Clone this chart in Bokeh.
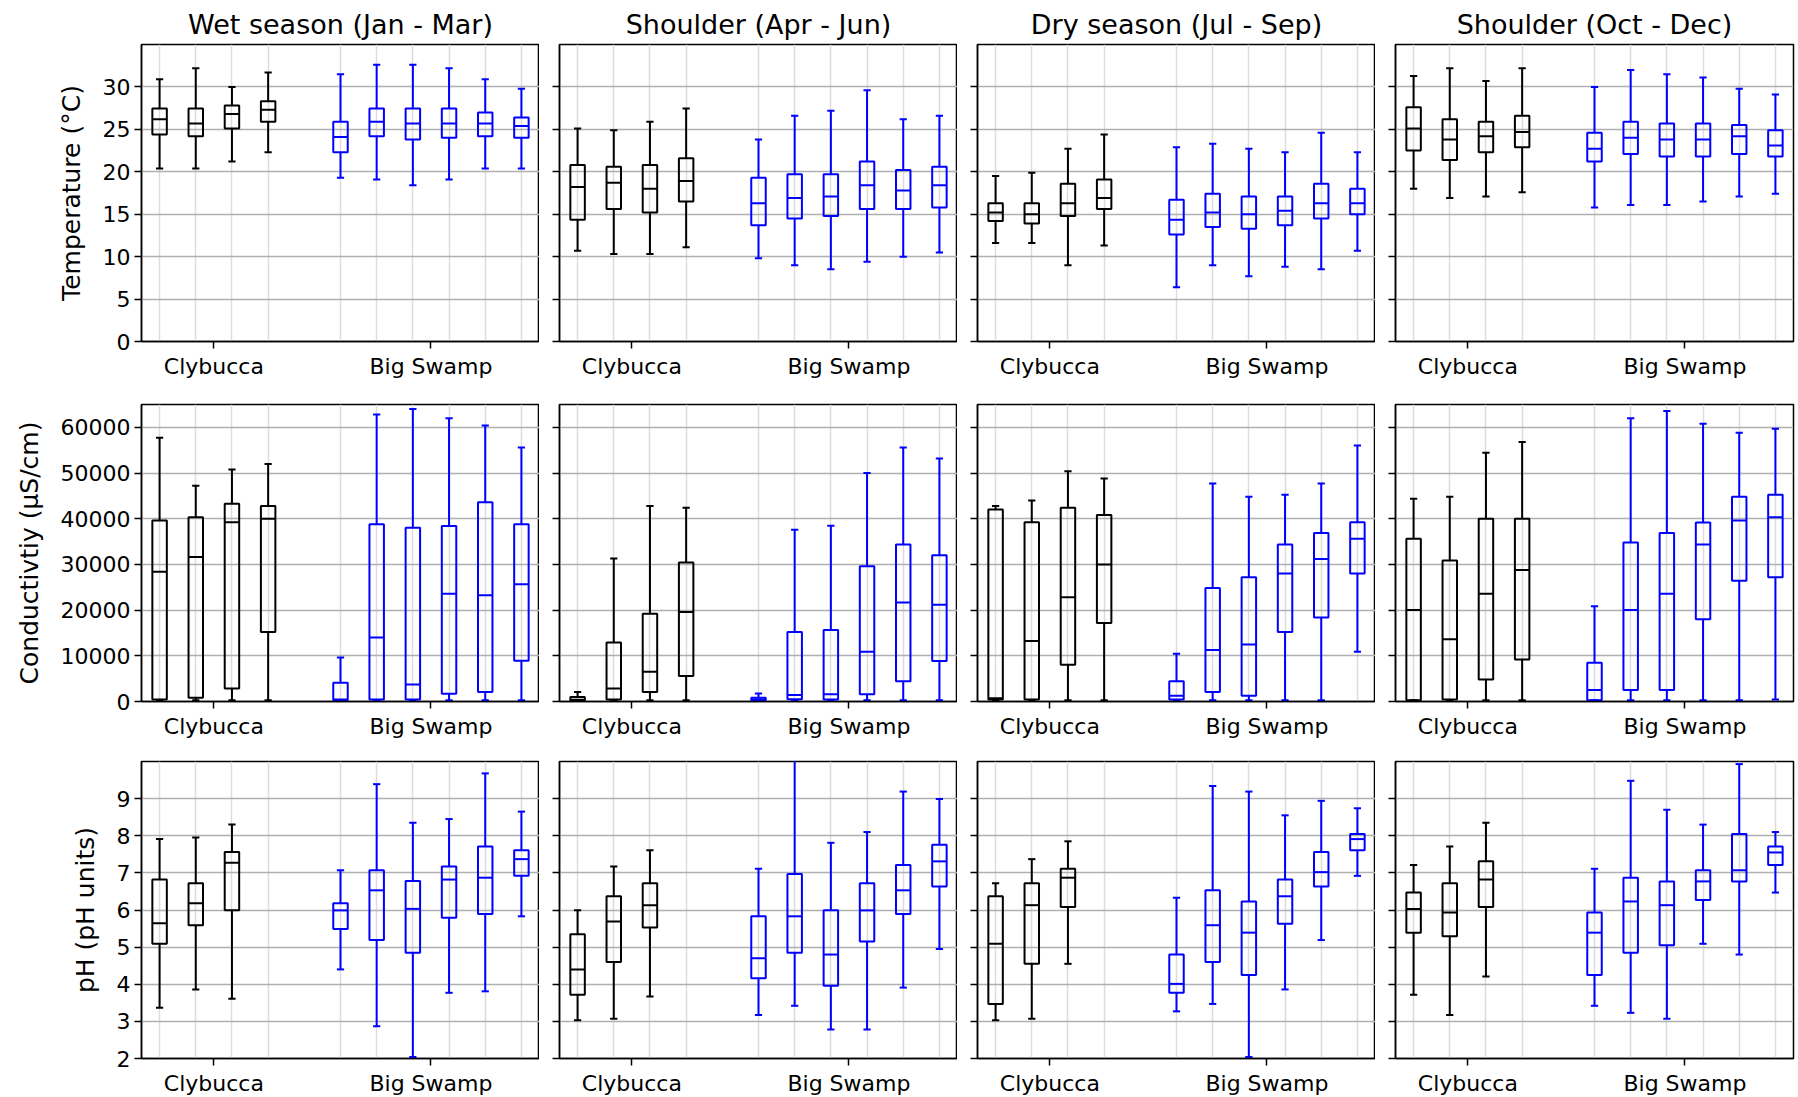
from bokeh.plotting import figure
from bokeh.layouts import gridplot
from bokeh.models import FixedTicker, ColumnDataSource, Range1d, CustomJSTickFormatter
from bokeh.embed import file_html
from bokeh.resources import INLINE

# ---------------- data ----------------
SEASONS = ["Wet season (Jan - Mar)", "Shoulder (Apr - Jun)",
           "Dry season (Jul - Sep)", "Shoulder (Oct - Dec)"]
SITES = ["Clybucca", "Big Swamp"]
YLABELS = ["Temperature (°C)", "Conductivtiy (µS/cm)", "pH (pH units)"]
TEMP_TICKS = [0, 5, 10, 15, 20, 25, 30]
COND_TICKS = [0, 10000, 20000, 30000, 40000, 50000, 60000]
PH_TICKS = [2, 3, 4, 5, 6, 7, 8, 9]
TEMP_LIM = [0, 35]
COND_LIM = [0, 65000]
PH_LIM = [2, 10]

# each box: [whisker_low, q1, median, q3, whisker_high]
TEMP_WET_CLY = [[20.4, 24.4, 26.2, 27.45, 30.9], [20.4, 24.2, 25.7, 27.45, 32.2],
                [21.2, 25.1, 26.8, 27.8, 30.0], [22.3, 25.9, 27.3, 28.3, 31.7]]
TEMP_WET_BS = [[19.3, 22.3, 24.1, 25.9, 31.5], [19.1, 24.2, 25.9, 27.45, 32.6],
               [18.4, 23.8, 25.7, 27.45, 32.6], [19.1, 24.0, 25.7, 27.45, 32.2],
               [20.4, 24.2, 25.7, 27.0, 30.9], [20.4, 24.0, 25.4, 26.4, 29.8]]
TEMP_AJ_CLY = [[10.7, 14.35, 18.2, 20.8, 25.1], [10.3, 15.6, 18.7, 20.6, 24.9],
               [10.3, 15.2, 18.0, 20.8, 25.9], [11.1, 16.5, 18.9, 21.6, 27.45]]
TEMP_AJ_BS = [[9.8, 13.7, 16.3, 19.3, 23.8], [9.0, 14.5, 16.9, 19.7, 26.6],
              [8.5, 14.8, 17.1, 19.7, 27.2], [9.4, 15.6, 18.4, 21.2, 29.6],
              [10.0, 15.6, 17.8, 20.2, 26.2], [10.5, 15.8, 18.4, 20.6, 26.6]]
TEMP_DRY_CLY = [[11.6, 14.2, 15.2, 16.3, 19.5], [11.6, 13.9, 15.0, 16.3, 19.9],
                [9.0, 14.8, 16.3, 18.6, 22.7], [11.3, 15.6, 16.9, 19.1, 24.4]]
TEMP_DRY_BS = [[6.4, 12.6, 14.35, 16.7, 22.9], [9.0, 13.5, 15.2, 17.4, 23.3],
               [7.7, 13.3, 15.0, 17.1, 22.7], [8.8, 13.7, 15.4, 17.1, 22.3],
               [8.5, 14.5, 16.3, 18.6, 24.6], [10.7, 15.0, 16.3, 18.0, 22.3]]
TEMP_OD_CLY = [[18.0, 22.5, 25.1, 27.6, 31.3], [16.9, 21.4, 23.8, 26.2, 32.2],
               [17.1, 22.3, 24.2, 25.9, 30.7], [17.6, 22.9, 24.7, 26.6, 32.2]]
TEMP_OD_BS = [[15.8, 21.2, 22.7, 24.6, 30.0], [16.1, 22.1, 24.0, 25.9, 32.0],
              [16.1, 21.8, 23.8, 25.7, 31.5], [16.5, 21.8, 23.8, 25.7, 31.1],
              [17.1, 22.1, 24.2, 25.5, 29.8], [17.4, 21.8, 23.1, 24.9, 29.1]]

COND_WET_CLY = [[250, 450, 28400, 39600, 57700], [250, 800, 31600, 40350, 47200],
                [250, 2850, 39250, 43300, 50800], [250, 15200, 40000, 42800, 52000]]
COND_WET_BS = [[100, 300, 450, 4100, 9650], [250, 450, 14000, 38800, 62800],
               [250, 450, 3700, 38000, 64000], [250, 1700, 23600, 38400, 62000],
               [250, 2100, 23250, 43600, 60400], [250, 8900, 25650, 38800, 55600]]
COND_AJ_CLY = [[100, 200, 400, 1000, 2100], [250, 450, 2850, 12900, 31300],
               [250, 2100, 6500, 19200, 42800], [250, 5600, 19600, 30400, 42400]]
COND_AJ_BS = [[100, 300, 450, 800, 1750], [250, 500, 1400, 15200, 37600],
              [250, 450, 1600, 15650, 38450], [250, 1600, 10900, 29600, 50000],
              [250, 4450, 21650, 34350, 55600], [250, 8850, 21200, 32000, 53200]]
COND_DRY_CLY = [[250, 450, 700, 42000, 42800], [250, 450, 13250, 39250, 44000],
                [250, 8050, 22800, 42400, 50400], [250, 17200, 30000, 40800, 48800]]
COND_DRY_BS = [[150, 450, 1250, 4450, 10450], [250, 2100, 11250, 24850, 47700],
               [250, 1250, 12500, 27200, 44800], [250, 15200, 28000, 34350, 45250],
               [250, 18400, 31200, 36850, 47700], [10900, 28000, 35600, 39250, 56000]]
COND_OD_CLY = [[250, 300, 20000, 35600, 44400], [250, 450, 13600, 30850, 44800],
               [250, 4800, 23600, 40000, 54450], [250, 9200, 28800, 40000, 56800]]
COND_OD_BS = [[250, 300, 2500, 8500, 20850], [250, 2500, 20000, 34800, 62000],
              [250, 2500, 23600, 36850, 63600], [250, 18000, 34350, 39200, 60800],
              [250, 26400, 39600, 44800, 58800], [450, 27200, 40350, 45250, 59700]]

PH_WET_CLY = [[3.37, 5.09, 5.64, 6.82, 7.91], [3.86, 5.59, 6.18, 6.72, 7.95],
              [3.61, 5.99, 7.27, 7.56, 8.30]]
PH_WET_BS = [[4.40, 5.49, 5.99, 6.18, 7.07], [2.87, 5.19, 6.53, 7.07, 9.39],
             [2.04, 4.85, 6.03, 6.78, 8.35], [3.77, 5.79, 6.82, 7.17, 8.45],
             [3.81, 5.89, 6.87, 7.71, 9.68], [5.83, 6.92, 7.37, 7.61, 8.65]]
PH_AJ_CLY = [[3.03, 3.72, 4.40, 5.35, 5.99], [3.07, 4.60, 5.69, 6.37, 7.17],
             [3.67, 5.53, 6.13, 6.72, 7.61]]
PH_AJ_BS = [[3.17, 4.16, 4.70, 5.83, 7.11], [3.42, 4.85, 5.83, 6.97, 10.2],
            [2.78, 3.96, 4.80, 5.99, 7.81], [2.78, 5.15, 5.99, 6.72, 8.10],
            [3.91, 5.89, 6.53, 7.21, 9.19], [4.95, 6.63, 7.31, 7.76, 8.99]]
PH_DRY_CLY = [[3.03, 3.47, 5.09, 6.37, 6.72], [3.07, 4.55, 6.13, 6.72, 7.37],
              [4.55, 6.08, 6.87, 7.11, 7.85]]
PH_DRY_BS = [[3.27, 3.77, 4.01, 4.80, 6.33], [3.47, 4.60, 5.59, 6.53, 9.34],
             [2.04, 4.25, 5.39, 6.23, 9.19], [3.86, 5.63, 6.37, 6.82, 8.55],
             [5.19, 6.63, 7.02, 7.56, 8.94], [6.92, 7.61, 7.91, 8.05, 8.74]]
PH_OD_CLY = [[3.72, 5.39, 6.03, 6.47, 7.21], [3.17, 5.29, 5.93, 6.72, 7.71],
             [4.21, 6.08, 6.82, 7.31, 8.35]]
PH_OD_BS = [[3.42, 4.25, 5.39, 5.93, 7.11], [3.23, 4.85, 6.23, 6.87, 9.48],
            [3.07, 5.05, 6.13, 6.77, 8.70], [5.09, 6.27, 6.77, 7.07, 8.30],
            [4.80, 6.77, 7.07, 8.05, 9.93], [6.47, 7.21, 7.55, 7.71, 8.10]]

ROWS = [
    (TEMP_TICKS, TEMP_LIM, [(TEMP_WET_CLY, TEMP_WET_BS), (TEMP_AJ_CLY, TEMP_AJ_BS),
                            (TEMP_DRY_CLY, TEMP_DRY_BS), (TEMP_OD_CLY, TEMP_OD_BS)]),
    (COND_TICKS, COND_LIM, [(COND_WET_CLY, COND_WET_BS), (COND_AJ_CLY, COND_AJ_BS),
                            (COND_DRY_CLY, COND_DRY_BS), (COND_OD_CLY, COND_OD_BS)]),
    (PH_TICKS, PH_LIM, [(PH_WET_CLY, PH_WET_BS), (PH_AJ_CLY, PH_AJ_BS),
                        (PH_DRY_CLY, PH_DRY_BS), (PH_OD_CLY, PH_OD_BS)]),
]

# ---------------- style ----------------
SLOTS = 4                 # slots per site group on the x axis
BOX_W = 0.4
CAP_W = 0.2
LW = 2
SITE_COLORS = ["black", "#0000ff"]
FONT = "DejaVu Sans"
FW, FH = 398, 297
TOP_BORDERS = [44, 23, 20]

cly_start = 1
bs_start = cly_start + SLOTS + 1
slot_positions = list(range(cly_start, cly_start + SLOTS)) + list(range(bs_start, bs_start + 6))
site_centers = [cly_start + (SLOTS - 1) / 2, bs_start + 2.5]
x_lo, x_hi = cly_start - 0.5, bs_start + 5 + 0.5


def add_boxes(p, boxes, start, color):
    xs = [start + i for i in range(len(boxes))]
    lo, q1, med, q3, hi = (list(c) for c in zip(*boxes))
    src = ColumnDataSource(dict(
        x=xs, lo=lo, q1=q1, med=med, q3=q3, hi=hi,
        bl=[x - BOX_W / 2 for x in xs], br=[x + BOX_W / 2 for x in xs],
        cl=[x - CAP_W / 2 for x in xs], cr=[x + CAP_W / 2 for x in xs]))
    kw = dict(source=src, line_color=color, line_width=LW)
    p.segment("x", "q3", "x", "hi", **kw)
    p.segment("x", "q1", "x", "lo", **kw)
    p.segment("cl", "hi", "cr", "hi", **kw)
    p.segment("cl", "lo", "cr", "lo", **kw)
    p.vbar(x="x", width=BOX_W, bottom="q1", top="q3", fill_color=None, **kw)
    p.segment("bl", "med", "br", "med", **kw)


grid = []
for r, (ticks, lim, panels) in enumerate(ROWS):
    row_figs = []
    for c, (cly, bs) in enumerate(panels):
        p = figure(
            frame_width=FW, frame_height=FH,
            x_range=Range1d(x_lo, x_hi), y_range=Range1d(lim[0], lim[1]),
            output_backend="svg", toolbar_location=None,
            title=SEASONS[c] if r == 0 else None,
            min_border_left=141 if c == 0 else 20,
            min_border_right=3 if c == 3 else 0,
            min_border_top=TOP_BORDERS[r],
            min_border_bottom=38,
        )
        p.background_fill_color = "white"
        p.border_fill_color = "white"
        p.outline_line_color = "black"
        p.outline_line_width = 1.5
        if r == 0:
            p.title.text_font = FONT
            p.title.text_font_size = "27px"
            p.title.text_font_style = "normal"
            p.title.text_color = "black"
            p.title.align = "center"
            p.title.standoff = 10

        # x axis
        p.xaxis.ticker = FixedTicker(ticks=site_centers)
        p.xaxis.major_label_overrides = {site_centers[0]: SITES[0], site_centers[1]: SITES[1]}
        p.xgrid.ticker = FixedTicker(ticks=slot_positions)
        p.xgrid.grid_line_color = "#dcdcdc"
        p.xgrid.grid_line_width = 1.5

        # y axis
        p.yaxis.ticker = FixedTicker(ticks=ticks)
        p.ygrid.grid_line_color = "#b0b0b0"
        p.ygrid.grid_line_width = 1.5

        for ax in (p.xaxis[0], p.yaxis[0]):
            ax.axis_line_color = "black"
            ax.axis_line_width = 1.5
            ax.major_tick_line_color = "black"
            ax.major_tick_line_width = 1.5
            ax.major_tick_out = 7
            ax.major_tick_in = 0
            ax.minor_tick_line_color = None
            ax.major_label_text_font = FONT
            ax.major_label_text_font_size = "22px"
            ax.major_label_text_color = "black"
            ax.major_label_standoff = 5

        if c == 0:
            p.yaxis.axis_label = YLABELS[r]
            p.yaxis.axis_label_text_font = FONT
            p.yaxis.axis_label_text_font_size = "25px"
            p.yaxis.axis_label_text_font_style = "normal"
            p.yaxis.axis_label_text_color = "black"
            p.yaxis.axis_label_standoff = 14
            p.yaxis.major_label_standoff = 4
        else:
            p.yaxis.formatter = CustomJSTickFormatter(code="return ''")
            p.yaxis.major_label_standoff = 0

        add_boxes(p, cly, cly_start, SITE_COLORS[0])
        add_boxes(p, bs, bs_start, SITE_COLORS[1])
        row_figs.append(p)
    grid.append(row_figs)

layout = gridplot(grid, toolbar_location=None)

open("out.html", "w").write(file_html(layout, INLINE))
